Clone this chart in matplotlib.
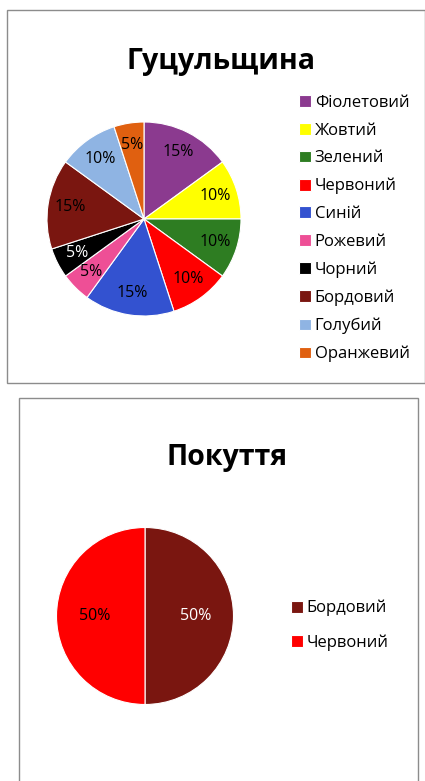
import matplotlib
matplotlib.use("Agg")
import matplotlib.pyplot as plt
from matplotlib.patches import Rectangle

plt.rcParams['font.family'] = ['Open Sans', 'DejaVu Sans']

# ---- data ----
title_top = "Гуцульщина"
labels_top = ["Фіолетовий", "Жовтий", "Зелений", "Червоний", "Синій",
              "Рожевий", "Чорний", "Бордовий", "Голубий", "Оранжевий"]
values_top = [15, 10, 10, 10, 15, 5, 5, 15, 10, 5]
colors_top = ["#8B3A8F", "#FFFF00", "#2E7D22", "#FF0000", "#3352D0",
              "#EE4F96", "#000000", "#7A1610", "#8FB4E3", "#E06010"]
text_colors_top = ["black", "black", "black", "black", "black",
                   "black", "white", "black", "black", "black"]

title_bot = "Покуття"
labels_bot = ["Бордовий", "Червоний"]
values_bot = [50, 50]
colors_bot = ["#7A1610", "#FF0000"]
text_colors_bot = ["white", "black"]

W, H = 425, 781
fig = plt.figure(figsize=(W / 100, H / 100), dpi=100)


def px_axes(cx, cy, r):
    return fig.add_axes([(cx - r) / W, 1 - (cy + r) / H, 2 * r / W, 2 * r / H])


# panel borders
fig.patches.append(Rectangle((7 / W, 1 - 383 / H), 418 / W, 373 / H,
                             transform=fig.transFigure, fill=False,
                             edgecolor="#8C8C8C", linewidth=1.0))
fig.patches.append(Rectangle((19 / W, -0.05), 399 / W, 1 - 398 / H + 0.05,
                             transform=fig.transFigure, fill=False,
                             edgecolor="#8C8C8C", linewidth=1.0))

# ---- top pie ----
ax1 = px_axes(144, 219, 97)
w1, t1, a1 = ax1.pie(values_top, colors=colors_top, startangle=90, counterclock=False,
                     autopct=lambda p: f"{p:.0f}%", pctdistance=0.77,
                     wedgeprops=dict(edgecolor="white", linewidth=0.8),
                     textprops=dict(fontsize=11.5))
for txt, c in zip(a1, text_colors_top):
    txt.set_color(c)
ax1.set_xlim(-1, 1)
ax1.set_ylim(-1, 1)

fig.text(221 / W, 1 - 61 / H, title_top, ha="center", va="center",
         fontsize=20.5, fontweight="bold")
fig.legend(w1, labels_top, loc="upper left",
           bbox_to_anchor=(299 / W, 1 - 95 / H), frameon=False,
           fontsize=12, handlelength=0.7, handleheight=0.7,
           handletextpad=0.25, labelspacing=0.7, borderaxespad=0,
           borderpad=0)

# ---- bottom pie ----
ax2 = px_axes(145, 616, 88.5)
w2, t2, a2 = ax2.pie(values_bot, colors=colors_bot, startangle=90, counterclock=False,
                     autopct=lambda p: f"{p:.0f}%", pctdistance=0.57,
                     wedgeprops=dict(edgecolor="white", linewidth=0.8),
                     textprops=dict(fontsize=11.5))
for txt, c in zip(a2, text_colors_bot):
    txt.set_color(c)
ax2.set_xlim(-1, 1)
ax2.set_ylim(-1, 1)

fig.text(227 / W, 1 - 458 / H, title_bot, ha="center", va="center",
         fontsize=20.5, fontweight="bold")
fig.legend(w2, labels_bot, loc="upper left",
           bbox_to_anchor=(291 / W, 1 - 600 / H), frameon=False,
           fontsize=12, handlelength=0.7, handleheight=0.7,
           handletextpad=0.25, labelspacing=1.08, borderaxespad=0,
           borderpad=0)

fig.savefig("out.png", dpi=100)
